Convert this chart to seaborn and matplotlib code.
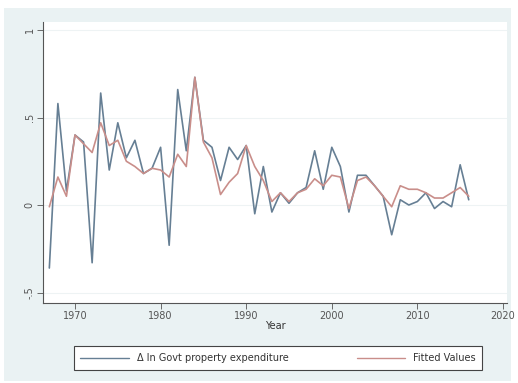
import seaborn as sns
import matplotlib.pyplot as plt
import matplotlib.patches as patches
import pandas as pd
import numpy as np

years = list(range(1967, 2017))
actual = [-0.36, 0.58, 0.08, 0.40, 0.36, -0.33, 0.64, 0.20, 0.47, 0.27,
          0.37, 0.18, 0.21, 0.33, -0.23, 0.66, 0.31, 0.73, 0.37, 0.33,
          0.14, 0.33, 0.26, 0.34, -0.05, 0.22, -0.04, 0.07, 0.01, 0.07,
          0.10, 0.31, 0.09, 0.33, 0.22, -0.04, 0.17, 0.17, 0.11, 0.05,
          -0.17, 0.03, 0.00, 0.02, 0.07, -0.02, 0.02, -0.01, 0.23, 0.03]
fitted = [-0.01, 0.16, 0.05, 0.40, 0.35, 0.30, 0.47, 0.34, 0.37, 0.25,
          0.22, 0.18, 0.21, 0.20, 0.16, 0.29, 0.22, 0.73, 0.36, 0.27,
          0.06, 0.13, 0.18, 0.34, 0.22, 0.14, 0.02, 0.07, 0.02, 0.07,
          0.09, 0.15, 0.11, 0.17, 0.16, -0.02, 0.14, 0.16, 0.11, 0.05,
          -0.01, 0.11, 0.09, 0.09, 0.07, 0.04, 0.04, 0.07, 0.10, 0.05]
series_names = ['Δ ln Govt property expenditure', 'Fitted Values']
y_ticks = [-0.5, 0, 0.5, 1]
y_ticklabels = ['-.5', '0', '.5', '1']
x_ticks = [1970, 1980, 1990, 2000, 2010, 2020]

df = pd.DataFrame({
    'Year': years * 2,
    'value': actual + fitted,
    'series': [series_names[0]] * len(years) + [series_names[1]] * len(years),
})

sns.set_style('white')
plt.rcParams['font.family'] = ['DejaVu Sans']

colors = ['#667f94', '#c98e8a']

fig = plt.figure(figsize=(5.18, 3.83), dpi=100, facecolor='white')
# stata-like graph region
bg = patches.Rectangle((4 / 518, 1 - 381 / 383), 507 / 518, 373 / 383,
                       transform=fig.transFigure, facecolor='#eaf2f3',
                       edgecolor='none', zorder=-10)
fig.patches.append(bg)
ax = fig.add_axes([43 / 518, 1 - 303 / 383, 464 / 518, 281 / 383])
ax.set_zorder(2)
ax.set_facecolor('white')

sns.lineplot(data=df, x='Year', y='value', hue='series', ax=ax,
             palette=colors, linewidth=1.2, legend=False)

ax.set_xlim(1966.26, 2020.47)
ax.set_ylim(-0.56, 1.046)
ax.set_yticks(y_ticks)
ax.set_yticklabels(y_ticklabels, rotation=90, va='center')
ax.set_xticks(x_ticks)
for y in y_ticks:
    ax.axhline(y, color='#eef3f4', linewidth=0.8, zorder=0)
ax.tick_params(axis='both', labelsize=7, colors='#555555', length=4, width=0.6,
               direction='out', left=True, bottom=True, pad=2)
ax.set_xlabel('Year', fontsize=7, color='#333333', labelpad=0)
ax.set_ylabel('')
for s in ['top', 'right']:
    ax.spines[s].set_visible(False)
for s in ['left', 'bottom']:
    ax.spines[s].set_color('#555555')
    ax.spines[s].set_linewidth(0.8)

handles = [plt.Line2D([], [], color=colors[0], lw=1),
           plt.Line2D([], [], color=colors[1], lw=1)]
leg = fig.legend(handles, series_names, ncol=2, loc='center',
                 bbox_to_anchor=(278 / 518, 1 - 358 / 383), fontsize=7,
                 frameon=True, fancybox=False, framealpha=1, handlelength=5,
                 columnspacing=7, borderpad=0.7)
leg.get_frame().set_edgecolor('#444444')
leg.get_frame().set_linewidth(0.8)
leg.set_zorder(3)
for t in leg.get_texts():
    t.set_color('#333333')

fig.savefig('out.png', dpi=100, facecolor='white')
